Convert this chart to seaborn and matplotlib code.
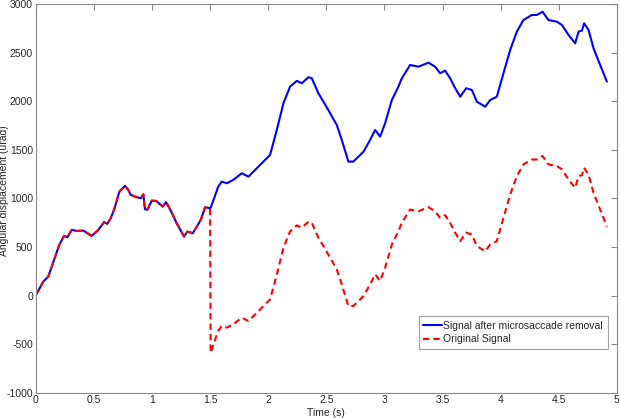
import numpy as np
import pandas as pd
import matplotlib
matplotlib.use("Agg")
import matplotlib.pyplot as plt
import seaborn as sns

# time samples (s)
time_s = [0.0, 0.065, 0.108, 0.203, 0.244, 0.272, 0.31, 0.353, 0.41, 0.444, 0.482,
          0.539, 0.588, 0.616, 0.645, 0.674, 0.72, 0.768, 0.797, 0.817, 0.869, 0.906,
          0.926, 0.94, 0.96, 0.998, 1.035, 1.076, 1.093, 1.121, 1.156, 1.213, 1.276,
          1.305, 1.351, 1.386, 1.42, 1.457, 1.5, 1.505, 1.53, 1.57, 1.6, 1.644, 1.7,
          1.773, 1.83, 1.902, 1.973, 2.016, 2.074, 2.131, 2.188, 2.246, 2.289, 2.346,
          2.375, 2.432, 2.475, 2.533, 2.59, 2.633, 2.69, 2.733, 2.82, 2.877, 2.92,
          2.963, 3.006, 3.064, 3.12, 3.15, 3.221, 3.293, 3.379, 3.436, 3.479, 3.522,
          3.565, 3.609, 3.652, 3.703, 3.752, 3.795, 3.867, 3.91, 3.967, 4.024, 4.082,
          4.139, 4.196, 4.268, 4.311, 4.36, 4.411, 4.484, 4.527, 4.584, 4.641, 4.67,
          4.699, 4.718, 4.756, 4.799, 4.856, 4.914]

# signal after microsaccade removal (urad)
corrected = [0, 144, 195, 522, 614, 600, 676, 665, 669, 642, 614,
             676, 755, 738, 796, 882, 1070, 1129, 1087, 1036, 1012, 1002,
             1043, 889, 882, 977, 974, 933, 916, 961, 889, 745, 607,
             658, 642, 710, 779, 909, 899, 905, 985, 1121, 1173, 1156, 1190,
             1259, 1224, 1310, 1396, 1447, 1705, 1979, 2150, 2210, 2185, 2247,
             2237, 2082, 1996, 1876, 1756, 1602, 1379, 1379, 1481, 1602, 1705,
             1636, 1774, 2013, 2150, 2237, 2373, 2356, 2397, 2356, 2288, 2315,
             2237, 2134, 2047, 2134, 2116, 1996, 1944, 2013, 2047, 2288, 2528,
             2716, 2836, 2888, 2888, 2922, 2836, 2819, 2785, 2682, 2596, 2716,
             2727, 2802, 2733, 2545, 2373, 2202]

# original signal (urad)
original = [0, 144, 195, 522, 614, 600, 676, 665, 669, 642, 614,
            676, 755, 738, 796, 882, 1070, 1129, 1087, 1036, 1012, 1002,
            1043, 889, 882, 977, 974, 933, 916, 961, 889, 745, 607,
            658, 642, 710, 779, 909, 899, -590, -500, -365, -312, -330, -295,
            -228, -262, -178, -92, -40, 215, 490, 660, 722, 698, 760,
            750, 595, 510, 390, 270, 115, -108, -108, -6, 115, 218,
            150, 287, 525, 660, 750, 885, 868, 910, 868, 800, 828,
            750, 648, 560, 648, 628, 510, 455, 525, 560, 800, 1040,
            1228, 1350, 1400, 1400, 1437, 1350, 1332, 1300, 1195, 1108, 1228,
            1240, 1315, 1245, 1058, 885, 710]

label_corrected = "Signal after microsaccade removal"
label_original = "Original Signal"

df = pd.DataFrame({
    "time": time_s * 2,
    "value": corrected + original,
    "signal": [label_corrected] * len(time_s) + [label_original] * len(time_s),
})

sns.set_style("white")
plt.rcParams["font.family"] = ["Liberation Sans", "DejaVu Sans"]
plt.rcParams["axes.unicode_minus"] = False

fig = plt.figure(figsize=(6.2, 4.18), dpi=100)
ax = fig.add_axes([0.0576, 0.0605, 0.9374, 0.9297])

sns.lineplot(data=df, x="time", y="value", hue="signal", style="signal",
             hue_order=[label_corrected, label_original],
             palette={label_corrected: "#0000ff", label_original: "#ff0000"},
             dashes={label_corrected: "", label_original: (3, 2)},
             sort=False, estimator=None, linewidth=1.5, ax=ax)

ax.set_xlim(0, 5)
ax.set_ylim(-1000, 3000)
ax.set_xticks(np.arange(0, 5.01, 0.5))
ax.set_xticklabels(["0", "0.5", "1", "1.5", "2", "2.5", "3", "3.5", "4", "4.5", "5"])
ax.set_yticks(np.arange(-1000, 3001, 500))
ax.set_xlabel("Time (s)", fontsize=7.5, labelpad=2)
ax.set_ylabel("Angular displacement (urad)", fontsize=7.5)
ax.yaxis.set_label_coords(-0.046, 0.519)
ax.tick_params(direction="in", length=4, width=0.8, color="#888888",
               labelsize=7.5, top=True, right=True, labeltop=False, labelright=False, pad=2)
for sp in ax.spines.values():
    sp.set_color("#888888")
    sp.set_linewidth(0.8)

leg = ax.legend(loc="lower right", bbox_to_anchor=(0.984, 0.112), fontsize=7.5,
                frameon=True, fancybox=False, edgecolor="#888888",
                handlelength=1.8, handletextpad=0.1, borderpad=0.45,
                labelspacing=0.35, borderaxespad=0)
leg.get_frame().set_linewidth(0.8)

fig.savefig("out.png", dpi=100)
